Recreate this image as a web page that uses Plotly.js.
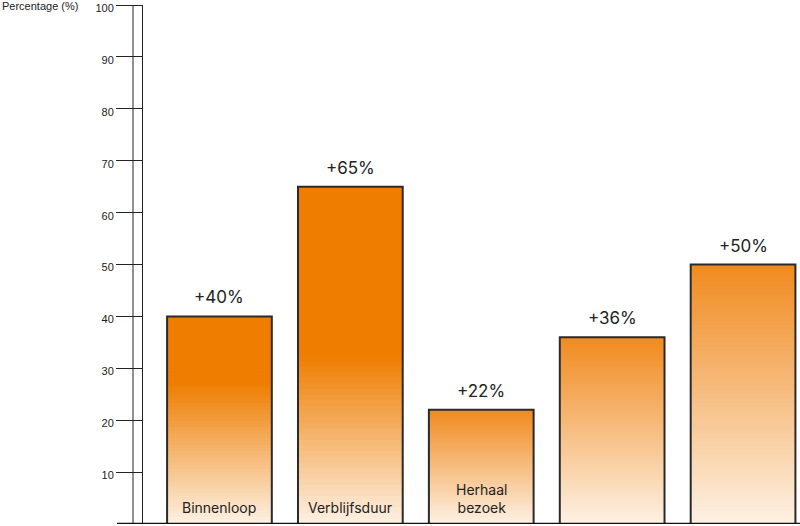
<!DOCTYPE html>
<html>
<head>
<meta charset="utf-8">
<script src="https://cdn.plot.ly/plotly-3.0.1.min.js"></script>
<style>html,body{margin:0;padding:0;background:#fff;}#chart{width:800px;height:526px;}</style>
</head>
<body>
<div id="chart"></div>
<script>
// ---- data ----
const categories = ["Binnenloop", "Verblijfsduur", "Herhaal<br>bezoek", "", ""];
const values = [40, 65, 22, 36, 50];
const valueLabels = ["+40%", "+65%", "+22%", "+36%", "+50%"];
const yTickVals = [10, 20, 30, 40, 50, 60, 70, 80, 90, 100];
const yAxisTitle = "Percentage (%)";

// ---- style: fraction of bar height that stays solid orange at the top ----
const solidFrom = [0.68, 0.5, 1, 1, 1];
const cSolid = [238, 125, 0];
const cTop = [240, 138, 30];
const cBottom = [253, 241, 228];

function mix(a, b, t) {
  return 'rgb(' + a.map((v, i) => Math.round(v + (b[i] - v) * t)).join(',') + ')';
}
function colorAt(barIdx, frac) {
  const s = solidFrom[barIdx];
  if (s < 1) {
    if (frac >= s) return mix(cSolid, cSolid, 0);
    return mix(cBottom, cSolid, frac / s);
  }
  return mix(cBottom, cTop, frac);
}

const xs = categories.map((c, i) => i);
const N = 60;
const traces = [];
for (let k = 0; k < N; k++) {
  traces.push({
    type: 'bar',
    x: xs,
    base: values.map(v => v * k / N),
    y: values.map(v => Math.min(v * (k + 2) / N, v) - v * k / N),
    marker: {color: values.map((v, i) => colorAt(i, (k + 0.5) / N)), line: {width: 0}},
    hoverinfo: 'skip',
    showlegend: false
  });
}
traces.push({
  type: 'bar',
  x: xs,
  y: values,
  marker: {color: 'rgba(0,0,0,0)', line: {color: '#2a2a2a', width: 2}},
  hoverinfo: 'skip',
  showlegend: false
});

const plotW = 800 - 143;
const annotations = [];
values.forEach((v, i) => {
  annotations.push({
    x: xs[i], y: v, xref: 'x', yref: 'y', text: valueLabels[i], showarrow: false,
    yanchor: 'bottom', yshift: 7,
    font: {family: 'Inter, Roboto, sans-serif', size: 17, color: '#222'}
  });
  if (categories[i]) {
    annotations.push({
      x: xs[i], y: 0, xref: 'x', yref: 'y', text: categories[i], showarrow: false,
      yanchor: 'bottom', yshift: 6,
      font: {family: 'Inter, Roboto, sans-serif', size: 14, color: '#222'}
    });
  }
});
annotations.push({
  x: -143 / plotW, y: 1, xref: 'paper', yref: 'paper', text: yAxisTitle, showarrow: false,
  xanchor: 'left', yanchor: 'middle', yshift: -1,
  font: {family: 'Liberation Sans, Arial, sans-serif', size: 11, color: '#222'}
});

const layout = {
  width: 800, height: 526,
  margin: {l: 143, r: 0, t: 5, b: 2},
  paper_bgcolor: '#fff', plot_bgcolor: '#fff',
  barmode: 'overlay',
  bargap: 0.2,
  showlegend: false,
  xaxis: {range: [-0.584, 4.435], showgrid: false, zeroline: false, showticklabels: false, ticks: '', showline: false, fixedrange: true},
  yaxis: {
    range: [0, 100.02], tickvals: yTickVals, ticks: 'outside', ticklen: 26, tickwidth: 1, tickcolor: '#222',
    showline: true, linecolor: '#222', linewidth: 1, showgrid: false, zeroline: false,
    ticklabeloverflow: 'allow', ticklabelshift: 3,
    tickfont: {family: 'Liberation Sans, Arial, sans-serif', size: 11, color: '#222'}, fixedrange: true
  },
  shapes: [
    {type: 'line', xref: 'paper', yref: 'paper', x0: -10 / plotW, x1: -10 / plotW, y0: 0, y1: 1, line: {color: '#222', width: 1}},
    {type: 'line', xref: 'paper', yref: 'y', x0: -26 / plotW, x1: 1, y0: 0, y1: 0, line: {color: '#111', width: 2.5}}
  ],
  annotations: annotations
};

Plotly.newPlot('chart', traces, layout, {displayModeBar: false, staticPlot: true});
</script>
</body>
</html>
